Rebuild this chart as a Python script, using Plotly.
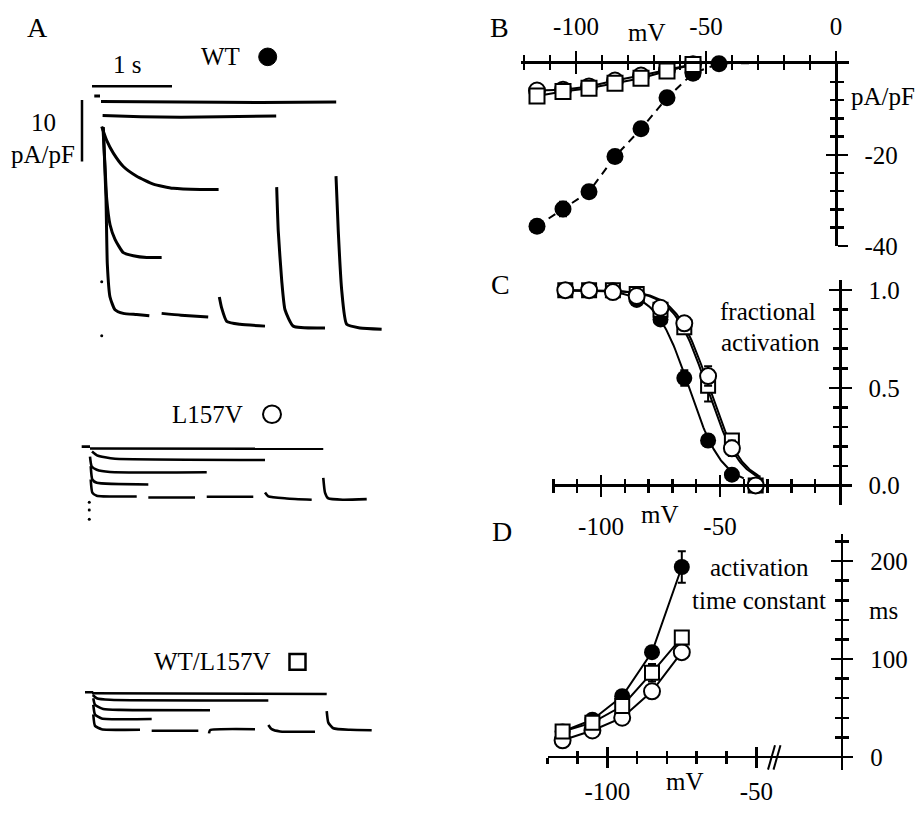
import numpy as np
import plotly.graph_objects as go

W, H = 918, 814
FONT = "Liberation Serif"

# ---------------- Panel A: current sweeps (time in s, current in pA/pF) ----------------
WT_T = [
    [-0.084, -0.0125],
    [0.0, 1.0, 2.0, 2.94],
    [0.02, 0.5, 1.0, 1.5, 2.19],
    [0.009, 0.071, 0.154, 0.279, 0.446, 0.654, 0.904, 1.24, 1.47],
    [0.025, 0.05, 0.071, 0.113, 0.175, 0.279, 0.404, 0.571, 0.758],
    [0.029, 0.0625, 0.079, 0.1125, 0.175, 0.279, 0.446, 0.604],
    [0.758, 1.0, 1.34],
    [1.479, 1.508, 1.571, 1.7375, 2.05],
    [2.196, 2.216, 2.259, 2.3, 2.404, 2.8],
    [2.9375, 2.966, 3.009, 3.071, 3.2375, 3.508],
]
WT_I = [
    [0.8, 0.8],
    [-0.1, -0.2, -0.25, -0.2],
    [-2.4, -2.6, -2.7, -2.6, -2.5],
    [-4.2, -6.5, -8.6, -10.8, -12.4, -13.7, -14.4, -14.6, -14.6],
    [-4.5, -10.75, -16.1, -20.4, -22.8, -25.0, -25.5, -25.8, -25.8],
    [-4.3, -16.1, -26.9, -32.3, -34.4, -35.0, -35.2, -35.4],
    [-35.0, -35.3, -35.6],
    [-32.3, -34.1, -36.3, -36.8, -37.1],
    [-14.2, -21.5, -29.6, -34.4, -37.1, -37.4],
    [-12.4, -21.5, -31.2, -36.8, -37.4, -37.6],
]
WT_DOT_T = [0.009, 0.009]
WT_DOT_I = [-29.8, -38.7]

L157V_T = [
    [-0.104, 0.0],
    [0.0, 2.916],
    [0.025, 0.0875, 0.1875, 0.3125, 2.1875],
    [0.0, 0.021, 0.084, 0.25, 1.459],
    [0.009, 0.029, 0.084, 0.729],
    [0.009, 0.029, 0.084, 0.584],
    [0.729, 1.3125],
    [1.459, 2.041],
    [2.1875, 2.229, 2.459, 2.771],
    [2.916, 2.9375, 2.979, 3.166, 3.459],
]
L157V_I = [
    [0.15, 0.15],
    [-0.16, -0.21],
    [-0.65, -1.29, -1.61, -1.85, -2.05],
    [-1.5, -3.11, -3.66, -4.03, -4.08],
    [-3.06, -5.27, -5.81, -6.08],
    [-5.27, -7.42, -7.95, -8.06],
    [-8.23, -8.23],
    [-8.11, -8.11],
    [-7.42, -8.06, -8.39, -8.6],
    [-5.0, -7.42, -8.39, -8.6, -8.5],
]
L157V_DOT_T = [-0.009, -0.009, -0.009]
L157V_DOT_I = [-9.03, -10.3, -11.8]

HET_T = [
    [-0.0875, 0.016],
    [0.0, 2.934],
    [0.009, 0.059, 0.225, 2.204],
    [0.016, 0.0375, 0.141, 0.35, 1.475],
    [0.016, 0.0375, 0.121, 0.746],
    [0.016, 0.0375, 0.121, 0.6],
    [0.746, 1.329],
    [1.4625, 1.475, 2.0375],
    [2.204, 2.246, 2.35, 2.7875],
    [2.934, 2.954, 3.016, 3.225, 3.496],
]
HET_I = [
    [0.0, 0.0],
    [-0.16, -0.27],
    [-0.44, -0.97, -1.24, -1.34],
    [-0.97, -2.05, -2.74, -2.9, -2.95],
    [-2.05, -3.66, -4.31, -4.4],
    [-3.66, -5.53, -6.08, -6.18],
    [-6.34, -6.34],
    [-6.77, -6.24, -6.08],
    [-5.37, -6.08, -6.45, -6.5],
    [-3.11, -5.0, -5.92, -6.18, -6.24],
]

# ---------------- Panel B: current density vs voltage ----------------
V_B = [-115, -105, -95, -85, -75, -65, -55, -45, -35]
B_WT = [-35.7, -31.9, -28.1, -20.4, -14.3, -7.5, -2.1, 0.0, 0.3]
B_WT_ERR = [0.6, 1.6, 0.8, 0.6, 0.5, 0.5, 0.4, 0.2, 0.2]
B_L157V = [-5.9, -5.7, -5.0, -3.7, -2.6, -1.4, -0.1, 0.7, 0.9]
B_HET = [-7.1, -6.1, -5.4, -4.3, -3.2, -1.6, -0.2, 0.7, 0.9]

# ---------------- Panel C: fractional activation ----------------
V_C = [-115, -105, -95, -85, -75, -65, -55, -45, -35]
C_WT = [1.0, 1.0, 1.0, 0.95, 0.85, 0.55, 0.23, 0.055, 0.0]
C_WT_ERR = [0, 0, 0, 0.01, 0.02, 0.04, 0.03, 0.01, 0]
C_L157V = [1.0, 1.0, 0.99, 0.97, 0.91, 0.83, 0.56, 0.19, 0.0]
C_L157V_ERR = [0, 0, 0, 0.01, 0.01, 0.02, 0.05, 0.04, 0]
C_HET = [1.0, 1.0, 1.0, 0.98, 0.9, 0.81, 0.51, 0.23, 0.0]
C_HET_ERR = [0, 0, 0, 0.01, 0.01, 0.03, 0.08, 0.03, 0]
# Boltzmann fit parameters (WT, L157V, WT/L157V)
FIT_VHALF = [-63.0, -55.5, -54.5]
FIT_SLOPE = [7.0, 7.0, 7.0]
FIT_VSTART = [-117.0, -117.0, -117.0]
FIT_VEND = [-40.0, -33.0, -33.0]

# ---------------- Panel D: activation time constant ----------------
V_D = [-115, -105, -95, -85, -75]
D_WT = [26, 38, 62, 107, 194]
D_WT_ERR = [2, 3, 3, 4, 16]
D_L157V = [17, 27, 40, 67, 107]
D_L157V_ERR = [2, 2, 3, 3, 4]
D_HET = [26, 35, 52, 86, 122]
D_HET_ERR = [2, 2, 3, 9, 6]


# ---------------- helpers ----------------
def dom_x(a, b, rng):
    return [(a + b * rng[0]) / W, (a + b * rng[1]) / W]


def dom_y(c, d, rng):
    return [1 - (c - d * rng[0]) / H, 1 - (c - d * rng[1]) / H]


def px(x):
    return x / W


def py(y):
    return 1 - y / H


TICKFONT = dict(family=FONT, size=25, color="black")


def main_axis(**kw):
    base = dict(showgrid=False, zeroline=False, showline=True, linecolor="black",
                linewidth=2.5, ticks="outside", tickcolor="black", tickwidth=2.5,
                ticklen=10, tickfont=TICKFONT, fixedrange=True, tickmode="array")
    base.update(kw)
    return base


def overlay_axis(**kw):
    base = dict(showgrid=False, zeroline=False, showline=False, ticks="inside",
                tickcolor="black", tickwidth=2.5, ticklen=10, showticklabels=False,
                fixedrange=True, tickmode="array")
    base.update(kw)
    return base


def minor(vals, inside=False):
    return dict(tickmode="array", tickvals=vals, ticklen=6, tickwidth=2.5,
                tickcolor="black", ticks="inside" if inside else "outside")


hidden = dict(visible=False, fixedrange=True)

fig = go.Figure()

# ---------------- Panel A traces ----------------
for ts, cs, xa, ya, lw in [(WT_T, WT_I, "x", "y", 3.0),
                           (L157V_T, L157V_I, "x2", "y2", 2.6),
                           (HET_T, HET_I, "x3", "y3", 2.6)]:
    for t, c in zip(ts, cs):
        fig.add_trace(go.Scatter(x=t, y=c, mode="lines", xaxis=xa, yaxis=ya,
                                 line=dict(color="black", width=lw, shape="spline", smoothing=0.5),
                                 hoverinfo="skip"))
fig.add_trace(go.Scatter(x=WT_DOT_T, y=WT_DOT_I, mode="markers", xaxis="x", yaxis="y",
                         marker=dict(color="black", size=3), hoverinfo="skip"))
fig.add_trace(go.Scatter(x=L157V_DOT_T, y=L157V_DOT_I, mode="markers", xaxis="x2", yaxis="y2",
                         marker=dict(color="black", size=3), hoverinfo="skip"))

# ---------------- Panel B traces ----------------
def err(vals, w=4):
    return dict(type="data", array=vals, visible=True, color="black", thickness=2, width=w)


fig.add_trace(go.Scatter(x=V_B, y=B_WT, mode="lines+markers", xaxis="x4", yaxis="y4",
                         line=dict(color="black", width=2, dash="8px,6px"),
                         marker=dict(symbol="circle", size=17, color="black"),
                         error_y=err(B_WT_ERR), cliponaxis=False))
fig.add_trace(go.Scatter(x=V_B, y=B_L157V, mode="lines+markers", xaxis="x4", yaxis="y4",
                         line=dict(color="black", width=2),
                         marker=dict(symbol="circle", size=16, color="white",
                                     line=dict(color="black", width=2)), cliponaxis=False))
fig.add_trace(go.Scatter(x=V_B, y=B_HET, mode="lines+markers", xaxis="x4", yaxis="y4",
                         line=dict(color="black", width=2),
                         marker=dict(symbol="square", size=15, color="white",
                                     line=dict(color="black", width=2)), cliponaxis=False))

# ---------------- Panel C traces ----------------
for vh, k, v0, v1 in zip(FIT_VHALF, FIT_SLOPE, FIT_VSTART, FIT_VEND):
    vv = np.linspace(v0, v1, 160)
    fig.add_trace(go.Scatter(x=vv, y=1.0 / (1.0 + np.exp((vv - vh) / k)), mode="lines",
                             xaxis="x6", yaxis="y6", line=dict(color="black", width=2),
                             hoverinfo="skip"))
fig.add_trace(go.Scatter(x=V_C, y=C_WT, mode="markers", xaxis="x6", yaxis="y6",
                         marker=dict(symbol="circle", size=16, color="black"),
                         error_y=err(C_WT_ERR), cliponaxis=False))
fig.add_trace(go.Scatter(x=V_C, y=C_HET, mode="markers", xaxis="x6", yaxis="y6",
                         marker=dict(symbol="square", size=14, color="white",
                                     line=dict(color="black", width=2)),
                         error_y=err(C_HET_ERR), cliponaxis=False))
fig.add_trace(go.Scatter(x=V_C, y=C_L157V, mode="markers", xaxis="x6", yaxis="y6",
                         marker=dict(symbol="circle", size=16, color="white",
                                     line=dict(color="black", width=2)),
                         error_y=err(C_L157V_ERR), cliponaxis=False))

# ---------------- Panel D traces ----------------
fig.add_trace(go.Scatter(x=V_D, y=D_WT, mode="lines+markers", xaxis="x8", yaxis="y8",
                         line=dict(color="black", width=2),
                         marker=dict(symbol="circle", size=16, color="black"),
                         error_y=err(D_WT_ERR), cliponaxis=False))
fig.add_trace(go.Scatter(x=V_D, y=D_L157V, mode="lines+markers", xaxis="x8", yaxis="y8",
                         line=dict(color="black", width=2),
                         marker=dict(symbol="circle", size=16, color="white",
                                     line=dict(color="black", width=2)),
                         error_y=err(D_L157V_ERR), cliponaxis=False))
fig.add_trace(go.Scatter(x=V_D, y=D_HET, mode="lines+markers", xaxis="x8", yaxis="y8",
                         line=dict(color="black", width=2),
                         marker=dict(symbol="square", size=14, color="white",
                                     line=dict(color="black", width=2)),
                         error_y=err(D_HET_ERR), cliponaxis=False))

# empty traces to register overlay (crossing-tick) axes
for xa, ya in [("x5", "y4"), ("x4", "y5"), ("x7", "y6"), ("x6", "y7"), ("x9", "y8"), ("x8", "y9")]:
    fig.add_trace(go.Scatter(x=[None], y=[None], xaxis=xa, yaxis=ya, mode="markers",
                             hoverinfo="skip"))

# ---------------- axes ----------------
A1x, A1y = [-0.35, 3.6], [-40, 3.5]
A2x, A2y = [-0.25, 3.6], [-13, 2]
A3x, A3y = [-0.25, 3.6], [-10, 2]
Bx, By = [-121, 5], [-40, 0]
Cx, Cy = [-120.5, 0], [-0.1, 1.05]
Dx, Dy = [-120, -21.7], [-13, 228]

B_xmaj, B_xmin = [-100, -50, 0], [v for v in range(-120, 1, 10) if v not in (-100, -50, 0)]
B_ymaj, B_ymin = [-40, -20], [v for v in range(-36, 0, 4) if v != -20]
C_xmaj, C_xmin = [-100, -50], [v for v in range(-120, 0, 10) if v not in (-100, -50)]
C_ymaj, C_ymin = [0, 0.5, 1.0], [round(0.1 * i, 1) for i in range(1, 10) if i != 5]
D_xmaj, D_xmin = [-100, -50], [-120, -110, -90, -80, -70, -60]
D_ymaj, D_ymin = [0, 100, 200], [20, 40, 60, 80, 120, 140, 160, 180, 220]

B_ypos = 836 / W
C_xpos = py(492.7)
D_xpos = py(770)

fig.update_layout(
    xaxis=dict(hidden, domain=dom_x(101, 80, A1x), range=A1x, anchor="y"),
    yaxis=dict(hidden, domain=dom_y(100, 6.2, A1y), range=A1y, anchor="x"),
    xaxis2=dict(hidden, domain=dom_x(90, 80, A2x), range=A2x, anchor="y2"),
    yaxis2=dict(hidden, domain=dom_y(454, 6.2, A2y), range=A2y, anchor="x2"),
    xaxis3=dict(hidden, domain=dom_x(92, 80, A3x), range=A3x, anchor="y3"),
    yaxis3=dict(hidden, domain=dom_y(704, 6.2, A3y), range=A3y, anchor="x3"),
    # Panel B
    xaxis4=main_axis(domain=dom_x(836, 2.6, Bx), range=Bx, side="top", anchor="y4",
                     tickvals=B_xmaj, ticktext=["-100", "-50", "0"], minor=minor(B_xmin),
                     ticklabelstandoff=6),
    yaxis4=main_axis(domain=dom_y(62, 4.65, By), range=By, side="right", anchor="free",
                     position=B_ypos, tickvals=B_ymaj, ticktext=["-40", "-20"],
                     minor=minor(B_ymin), ticklabelstandoff=12),
    xaxis5=overlay_axis(overlaying="x4", range=Bx, side="top", anchor="y4",
                        tickvals=B_xmaj, minor=minor(B_xmin, True)),
    yaxis5=overlay_axis(overlaying="y4", range=By, side="right", anchor="free",
                        position=B_ypos, tickvals=B_ymaj, minor=minor(B_ymin, True)),
    # Panel C
    xaxis6=main_axis(domain=dom_x(839, 2.38, Cx), range=Cx, side="bottom", anchor="free",
                     position=C_xpos, tickvals=C_xmaj, ticktext=["-100", "-50"],
                     minor=minor(C_xmin), ticklabelstandoff=8),
    yaxis6=main_axis(domain=dom_y(492.7, 199.4, Cy), range=Cy, side="right", anchor="x6",
                     tickvals=C_ymaj, ticktext=["0.0", "0.5", "1.0"], minor=minor(C_ymin),
                     ticklabelstandoff=12),
    xaxis7=overlay_axis(overlaying="x6", range=Cx, side="bottom", anchor="free",
                        position=C_xpos, tickvals=C_xmaj, minor=minor(C_xmin, True)),
    yaxis7=overlay_axis(overlaying="y6", range=Cy, side="right", anchor="x6",
                        tickvals=C_ymaj, minor=minor(C_ymin, True)),
    # Panel D
    xaxis8=main_axis(domain=dom_x(905.3, 2.98, Dx), range=Dx, side="bottom", anchor="free",
                     position=D_xpos, tickvals=D_xmaj, ticktext=["-100", "-50"],
                     minor=minor(D_xmin), ticklabelstandoff=2),
    yaxis8=main_axis(domain=dom_y(770, 1.0, Dy), range=Dy, side="right", anchor="x8",
                     tickvals=D_ymaj, ticktext=["0", "100", "200"], minor=minor(D_ymin),
                     ticklabelstandoff=12),
    xaxis9=overlay_axis(overlaying="x8", range=Dx, side="bottom", anchor="free",
                        position=D_xpos, tickvals=D_xmaj, minor=minor(D_xmin, True)),
    yaxis9=overlay_axis(overlaying="y8", range=Dy, side="right", anchor="x8",
                        tickvals=D_ymaj, minor=minor(D_ymin, True)),
)

# ---------------- annotations ----------------
def ann(text, x, y, size=25, xanchor="center"):
    return dict(text=text, x=px(x), y=py(y), xref="paper", yref="paper", showarrow=False,
                xanchor=xanchor, yanchor="middle", font=dict(family=FONT, size=size, color="black"))


annotations = [
    ann("A", 37, 25, 28), ann("B", 499, 25, 28), ann("C", 501, 288, 28), ann("D", 502, 540, 28),
    ann("WT", 220, 55), ann("L157V", 207, 420), ann("WT/L157V", 212, 673),
    ann("1 s", 127, 63), ann("10", 43, 122), ann("pA/pF", 43, 155),
    ann("mV", 647, 30), ann("pA/pF", 883, 95),
    ann("fractional", 768, 315), ann("activation", 770, 347), ann("mV", 660, 522),
    ann("activation", 759, 577), ann("time constant", 759, 610), ann("ms", 883, 620),
    ann("mV", 685, 795),
]

# ---------------- shapes: scale bars, symbol keys, axis break ----------------
shapes = [
    dict(type="line", xref="x", yref="y", x0=-0.1125, x1=0.8875, y0=2.4, y1=2.4,
         line=dict(color="black", width=2.5)),
    dict(type="line", xref="x", yref="y", x0=-0.2375, x1=-0.2375, y0=0.16, y1=-10,
         line=dict(color="black", width=2.5)),
    dict(type="circle", xref="paper", yref="paper", x0=px(258.7), x1=px(276.7),
         y0=py(64), y1=py(46), fillcolor="black", line=dict(color="black", width=1)),
    dict(type="circle", xref="paper", yref="paper", x0=px(263), x1=px(281),
         y0=py(429), y1=py(411), fillcolor="white", line=dict(color="black", width=2)),
    dict(type="rect", xref="paper", yref="paper", x0=px(289.5), x1=px(305.5),
         y0=py(681), y1=py(665), fillcolor="white", line=dict(color="black", width=2.5)),
    dict(type="line", xref="paper", yref="paper", x0=px(768), x1=px(775),
         y0=py(783), y1=py(758), line=dict(color="black", width=2)),
    dict(type="line", xref="paper", yref="paper", x0=px(773.5), x1=px(780.5),
         y0=py(783), y1=py(758), line=dict(color="black", width=2)),
]

fig.update_layout(
    width=W, height=H, margin=dict(l=0, r=0, t=0, b=0),
    paper_bgcolor="white", plot_bgcolor="rgba(0,0,0,0)",
    showlegend=False, hovermode=False,
    annotations=annotations, shapes=shapes,
    font=dict(family=FONT, size=25, color="black"),
)

fig.write_html("out.html", config={"displayModeBar": False, "staticPlot": True},
               post_script="document.body.style.margin='0px';document.body.style.overflow='hidden';")
